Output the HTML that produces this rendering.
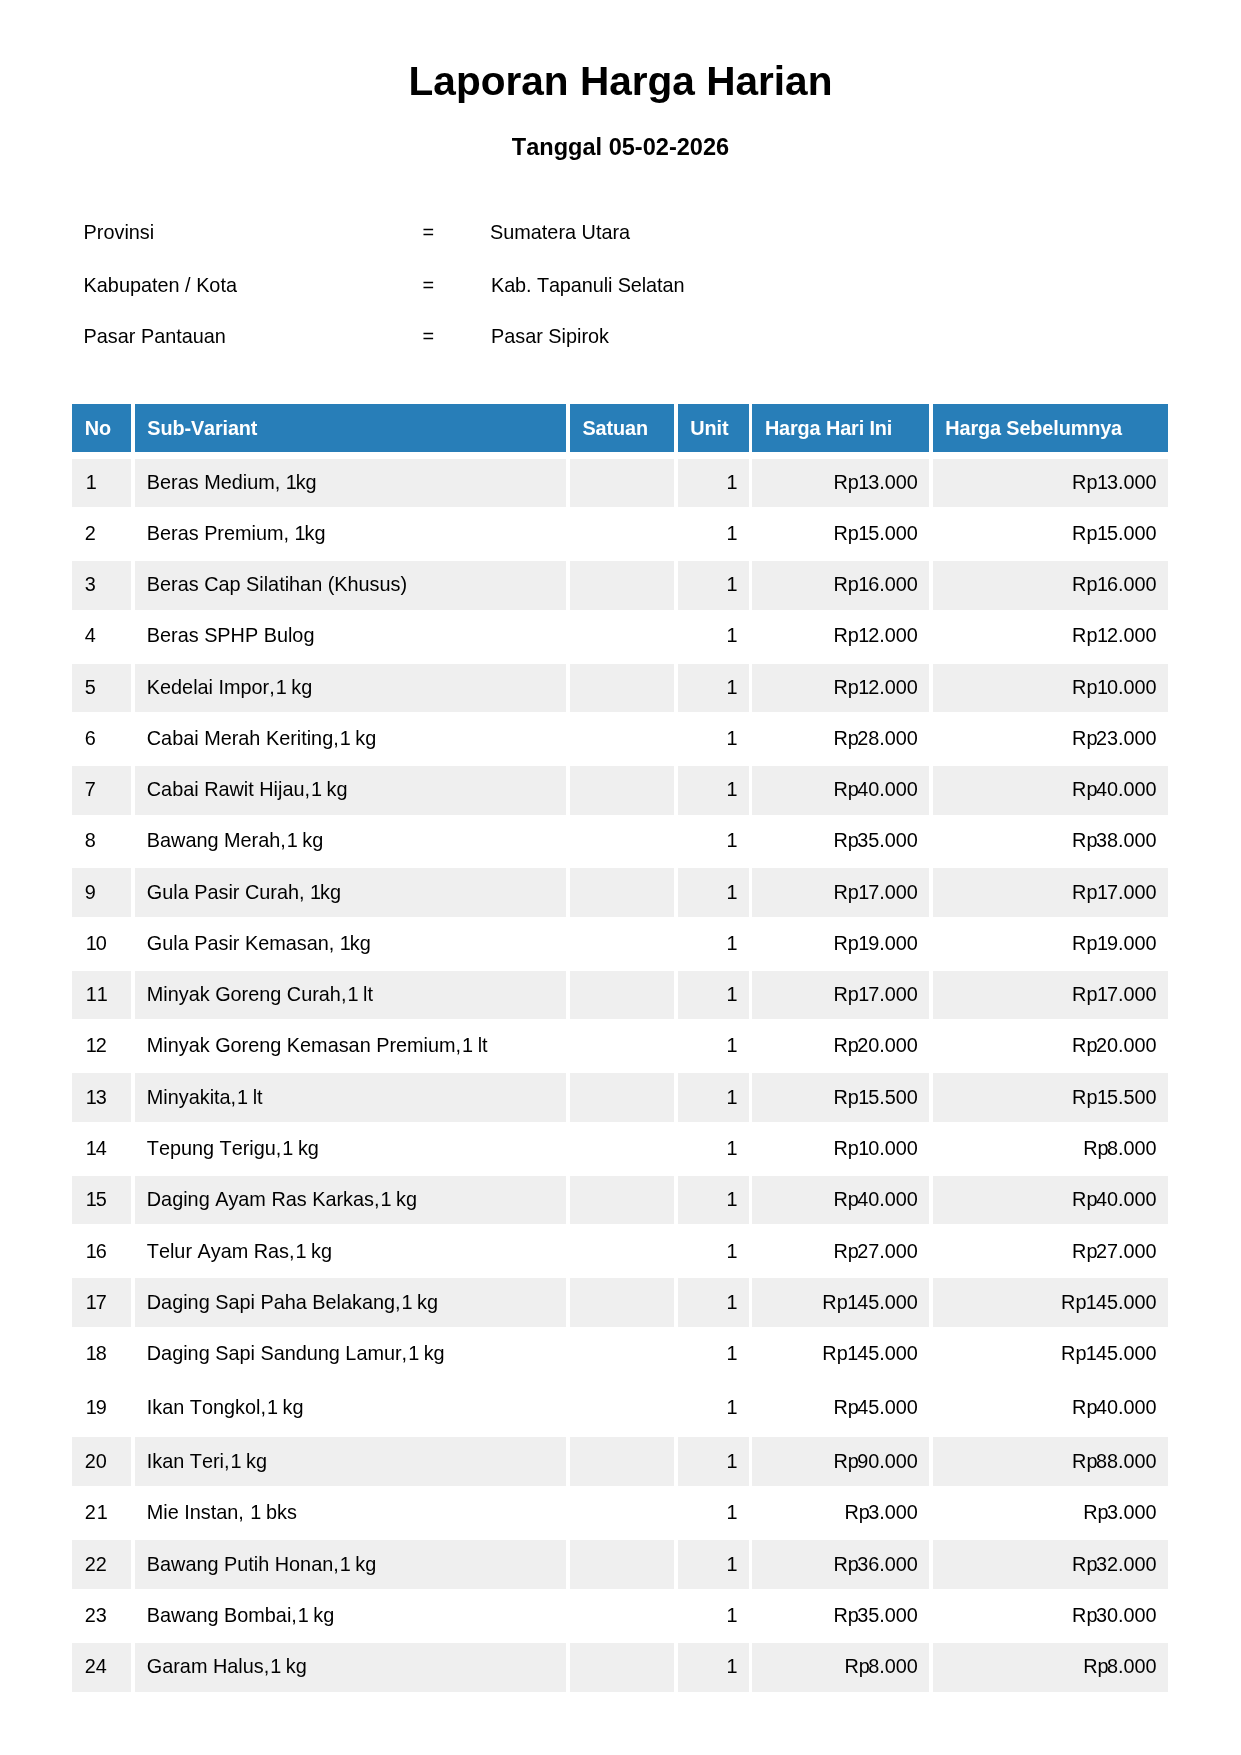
<!DOCTYPE html>
<html><head><meta charset="utf-8"><title>Laporan Harga Harian</title>
<style>
html,body{margin:0;padding:0;background:#fff;}
body{width:1241px;height:1755px;position:relative;overflow:hidden;font-family:"Liberation Sans",sans-serif;color:#000;font-kerning:none;}
.t{position:absolute;white-space:nowrap;line-height:1;}
h1{position:absolute;left:0;width:1241px;text-align:center;margin:0;font-weight:bold;line-height:1;white-space:nowrap;}
.c{position:absolute;box-sizing:border-box;white-space:nowrap;font-size:19.85px;line-height:48.6px;height:48.6px;padding:0 11.7px;overflow:hidden;}
.c span{position:relative;top:var(--d);}
.h span{top:-0.3px;}
.p{padding-right:10.9px;}
i{font-style:normal;position:relative;left:1px;}
i.k{left:0;letter-spacing:-1.1px;}
.n{padding-left:12.7px;font-kerning:none;}
.m{padding-left:12.2px;}
.q{padding-right:11.7px;}
.h span{letter-spacing:-0.12px;}
.u{padding-right:12.4px;}
b{font-weight:normal;position:relative;left:1.6px;}
.h{background:#287eb8;color:#fff;font-weight:bold;padding-left:12.7px;}
.s{background:#efefef;}
.r{text-align:right;}
#w{position:absolute;left:0;top:0;width:1241px;height:1755px;will-change:transform;}
</style></head><body><div id="w">

<h1 style="top:60.5px;font-size:40.6px;">Laporan Harga Harian</h1>
<h1 style="top:135.8px;font-size:23.55px;">Tanggal 05-02-2026</h1>
<div class="t" style="left:83.6px;top:223.1px;font-size:19.85px;">Provinsi</div>
<div class="t" style="left:422.5px;top:223.1px;font-size:19.85px;">=</div>
<div class="t" style="left:490px;top:223.1px;font-size:19.85px;">Sumatera Utara</div>
<div class="t" style="left:83.6px;top:275.6px;font-size:19.85px;">Kabupaten / Kota</div>
<div class="t" style="left:422.5px;top:275.6px;font-size:19.85px;">=</div>
<div class="t" style="left:491px;top:275.6px;font-size:19.85px;letter-spacing:-0.09px;">Kab. Tapanuli Selatan</div>
<div class="t" style="left:83.6px;top:326.5px;font-size:19.85px;">Pasar Pantauan</div>
<div class="t" style="left:422.5px;top:326.5px;font-size:19.85px;">=</div>
<div class="t" style="left:491px;top:326.5px;font-size:19.85px;">Pasar Sipirok</div>
<div class="c h" style="left:72.1px;top:403.9px;width:58.8px;height:48.0px;line-height:48.0px;"><span>No</span></div>
<div class="c h" style="left:134.6px;top:403.9px;width:431.2px;height:48.0px;line-height:48.0px;"><span>Sub-Variant</span></div>
<div class="c h" style="left:569.8px;top:403.9px;width:104.0px;height:48.0px;line-height:48.0px;"><span>Satuan</span></div>
<div class="c h" style="left:677.6px;top:403.9px;width:71.4px;height:48.0px;line-height:48.0px;"><span>Unit</span></div>
<div class="c h" style="left:752.2px;top:403.9px;width:176.6px;height:48.0px;line-height:48.0px;"><span>Harga Hari Ini</span></div>
<div class="c h" style="left:932.6px;top:403.9px;width:235.7px;height:48.0px;line-height:48.0px;"><span>Harga Sebelumnya</span></div>
<div class="c s n" style="left:72.1px;top:458.75px;width:58.8px;--d:-1.25px"><span><i>1</i></span></div>
<div class="c s m" style="left:134.6px;top:458.75px;width:431.2px;--d:-1.25px"><span>Beras Medium, <i class="k">1</i>kg</span></div>
<div class="c s" style="left:569.8px;top:458.75px;width:104.0px;--d:-1.25px"></div>
<div class="c s r u" style="left:677.6px;top:458.75px;width:71.4px;--d:-1.25px"><span><i>1</i></span></div>
<div class="c s r p" style="left:752.2px;top:458.75px;width:176.6px;--d:-1.25px"><span><b>Rp</b><i>1</i>3.000</span></div>
<div class="c s r q" style="left:932.6px;top:458.75px;width:235.7px;--d:-1.25px"><span><b>Rp</b><i>1</i>3.000</span></div>
<div class="c n" style="left:72.1px;top:509.95px;width:58.8px;--d:-1.18px"><span>2</span></div>
<div class="c m" style="left:134.6px;top:509.95px;width:431.2px;--d:-1.18px"><span>Beras Premium, <i class="k">1</i>kg</span></div>
<div class="c" style="left:569.8px;top:509.95px;width:104.0px;--d:-1.18px"></div>
<div class="c r u" style="left:677.6px;top:509.95px;width:71.4px;--d:-1.18px"><span><i>1</i></span></div>
<div class="c r p" style="left:752.2px;top:509.95px;width:176.6px;--d:-1.18px"><span><b>Rp</b><i>1</i>5.000</span></div>
<div class="c r q" style="left:932.6px;top:509.95px;width:235.7px;--d:-1.18px"><span><b>Rp</b><i>1</i>5.000</span></div>
<div class="c s n" style="left:72.1px;top:561.15px;width:58.8px;--d:-1.11px"><span>3</span></div>
<div class="c s m" style="left:134.6px;top:561.15px;width:431.2px;--d:-1.11px"><span>Beras Cap Silatihan (Khusus)</span></div>
<div class="c s" style="left:569.8px;top:561.15px;width:104.0px;--d:-1.11px"></div>
<div class="c s r u" style="left:677.6px;top:561.15px;width:71.4px;--d:-1.11px"><span><i>1</i></span></div>
<div class="c s r p" style="left:752.2px;top:561.15px;width:176.6px;--d:-1.11px"><span><b>Rp</b><i>1</i>6.000</span></div>
<div class="c s r q" style="left:932.6px;top:561.15px;width:235.7px;--d:-1.11px"><span><b>Rp</b><i>1</i>6.000</span></div>
<div class="c n" style="left:72.1px;top:612.35px;width:58.8px;--d:-1.04px"><span>4</span></div>
<div class="c m" style="left:134.6px;top:612.35px;width:431.2px;--d:-1.04px"><span>Beras SPHP Bulog</span></div>
<div class="c" style="left:569.8px;top:612.35px;width:104.0px;--d:-1.04px"></div>
<div class="c r u" style="left:677.6px;top:612.35px;width:71.4px;--d:-1.04px"><span><i>1</i></span></div>
<div class="c r p" style="left:752.2px;top:612.35px;width:176.6px;--d:-1.04px"><span><b>Rp</b><i>1</i>2.000</span></div>
<div class="c r q" style="left:932.6px;top:612.35px;width:235.7px;--d:-1.04px"><span><b>Rp</b><i>1</i>2.000</span></div>
<div class="c s n" style="left:72.1px;top:663.55px;width:58.8px;--d:-0.97px"><span>5</span></div>
<div class="c s m" style="left:134.6px;top:663.55px;width:431.2px;--d:-0.97px"><span>Kedelai Impor,<i>1</i> kg</span></div>
<div class="c s" style="left:569.8px;top:663.55px;width:104.0px;--d:-0.97px"></div>
<div class="c s r u" style="left:677.6px;top:663.55px;width:71.4px;--d:-0.97px"><span><i>1</i></span></div>
<div class="c s r p" style="left:752.2px;top:663.55px;width:176.6px;--d:-0.97px"><span><b>Rp</b><i>1</i>2.000</span></div>
<div class="c s r q" style="left:932.6px;top:663.55px;width:235.7px;--d:-0.97px"><span><b>Rp</b><i>1</i>0.000</span></div>
<div class="c n" style="left:72.1px;top:714.75px;width:58.8px;--d:-0.90px"><span>6</span></div>
<div class="c m" style="left:134.6px;top:714.75px;width:431.2px;--d:-0.90px"><span>Cabai Merah Keriting,<i>1</i> kg</span></div>
<div class="c" style="left:569.8px;top:714.75px;width:104.0px;--d:-0.90px"></div>
<div class="c r u" style="left:677.6px;top:714.75px;width:71.4px;--d:-0.90px"><span><i>1</i></span></div>
<div class="c r p" style="left:752.2px;top:714.75px;width:176.6px;--d:-0.90px"><span><b>Rp</b>28.000</span></div>
<div class="c r q" style="left:932.6px;top:714.75px;width:235.7px;--d:-0.90px"><span><b>Rp</b>23.000</span></div>
<div class="c s n" style="left:72.1px;top:765.95px;width:58.8px;--d:-0.83px"><span>7</span></div>
<div class="c s m" style="left:134.6px;top:765.95px;width:431.2px;--d:-0.83px"><span>Cabai Rawit Hijau,<i>1</i> kg</span></div>
<div class="c s" style="left:569.8px;top:765.95px;width:104.0px;--d:-0.83px"></div>
<div class="c s r u" style="left:677.6px;top:765.95px;width:71.4px;--d:-0.83px"><span><i>1</i></span></div>
<div class="c s r p" style="left:752.2px;top:765.95px;width:176.6px;--d:-0.83px"><span><b>Rp</b>40.000</span></div>
<div class="c s r q" style="left:932.6px;top:765.95px;width:235.7px;--d:-0.83px"><span><b>Rp</b>40.000</span></div>
<div class="c n" style="left:72.1px;top:817.15px;width:58.8px;--d:-0.76px"><span>8</span></div>
<div class="c m" style="left:134.6px;top:817.15px;width:431.2px;--d:-0.76px"><span>Bawang Merah,<i>1</i> kg</span></div>
<div class="c" style="left:569.8px;top:817.15px;width:104.0px;--d:-0.76px"></div>
<div class="c r u" style="left:677.6px;top:817.15px;width:71.4px;--d:-0.76px"><span><i>1</i></span></div>
<div class="c r p" style="left:752.2px;top:817.15px;width:176.6px;--d:-0.76px"><span><b>Rp</b>35.000</span></div>
<div class="c r q" style="left:932.6px;top:817.15px;width:235.7px;--d:-0.76px"><span><b>Rp</b>38.000</span></div>
<div class="c s n" style="left:72.1px;top:868.35px;width:58.8px;--d:-0.69px"><span>9</span></div>
<div class="c s m" style="left:134.6px;top:868.35px;width:431.2px;--d:-0.69px"><span>Gula Pasir Curah, <i class="k">1</i>kg</span></div>
<div class="c s" style="left:569.8px;top:868.35px;width:104.0px;--d:-0.69px"></div>
<div class="c s r u" style="left:677.6px;top:868.35px;width:71.4px;--d:-0.69px"><span><i>1</i></span></div>
<div class="c s r p" style="left:752.2px;top:868.35px;width:176.6px;--d:-0.69px"><span><b>Rp</b><i>1</i>7.000</span></div>
<div class="c s r q" style="left:932.6px;top:868.35px;width:235.7px;--d:-0.69px"><span><b>Rp</b><i>1</i>7.000</span></div>
<div class="c n" style="left:72.1px;top:919.55px;width:58.8px;--d:-0.62px"><span><i>1</i>0</span></div>
<div class="c m" style="left:134.6px;top:919.55px;width:431.2px;--d:-0.62px"><span>Gula Pasir Kemasan, <i class="k">1</i>kg</span></div>
<div class="c" style="left:569.8px;top:919.55px;width:104.0px;--d:-0.62px"></div>
<div class="c r u" style="left:677.6px;top:919.55px;width:71.4px;--d:-0.62px"><span><i>1</i></span></div>
<div class="c r p" style="left:752.2px;top:919.55px;width:176.6px;--d:-0.62px"><span><b>Rp</b><i>1</i>9.000</span></div>
<div class="c r q" style="left:932.6px;top:919.55px;width:235.7px;--d:-0.62px"><span><b>Rp</b><i>1</i>9.000</span></div>
<div class="c s n" style="left:72.1px;top:970.75px;width:58.8px;--d:-0.55px"><span><i>1</i><i>1</i></span></div>
<div class="c s m" style="left:134.6px;top:970.75px;width:431.2px;--d:-0.55px"><span>Minyak Goreng Curah,<i>1</i> lt</span></div>
<div class="c s" style="left:569.8px;top:970.75px;width:104.0px;--d:-0.55px"></div>
<div class="c s r u" style="left:677.6px;top:970.75px;width:71.4px;--d:-0.55px"><span><i>1</i></span></div>
<div class="c s r p" style="left:752.2px;top:970.75px;width:176.6px;--d:-0.55px"><span><b>Rp</b><i>1</i>7.000</span></div>
<div class="c s r q" style="left:932.6px;top:970.75px;width:235.7px;--d:-0.55px"><span><b>Rp</b><i>1</i>7.000</span></div>
<div class="c n" style="left:72.1px;top:1021.95px;width:58.8px;--d:-0.48px"><span><i>1</i>2</span></div>
<div class="c m" style="left:134.6px;top:1021.95px;width:431.2px;--d:-0.48px"><span>Minyak Goreng Kemasan Premium,<i>1</i> lt</span></div>
<div class="c" style="left:569.8px;top:1021.95px;width:104.0px;--d:-0.48px"></div>
<div class="c r u" style="left:677.6px;top:1021.95px;width:71.4px;--d:-0.48px"><span><i>1</i></span></div>
<div class="c r p" style="left:752.2px;top:1021.95px;width:176.6px;--d:-0.48px"><span><b>Rp</b>20.000</span></div>
<div class="c r q" style="left:932.6px;top:1021.95px;width:235.7px;--d:-0.48px"><span><b>Rp</b>20.000</span></div>
<div class="c s n" style="left:72.1px;top:1073.15px;width:58.8px;--d:-0.41px"><span><i>1</i>3</span></div>
<div class="c s m" style="left:134.6px;top:1073.15px;width:431.2px;--d:-0.41px"><span>Minyakita,<i>1</i> lt</span></div>
<div class="c s" style="left:569.8px;top:1073.15px;width:104.0px;--d:-0.41px"></div>
<div class="c s r u" style="left:677.6px;top:1073.15px;width:71.4px;--d:-0.41px"><span><i>1</i></span></div>
<div class="c s r p" style="left:752.2px;top:1073.15px;width:176.6px;--d:-0.41px"><span><b>Rp</b><i>1</i>5.500</span></div>
<div class="c s r q" style="left:932.6px;top:1073.15px;width:235.7px;--d:-0.41px"><span><b>Rp</b><i>1</i>5.500</span></div>
<div class="c n" style="left:72.1px;top:1124.35px;width:58.8px;--d:-0.34px"><span><i>1</i>4</span></div>
<div class="c m" style="left:134.6px;top:1124.35px;width:431.2px;--d:-0.34px"><span>Tepung Terigu,<i>1</i> kg</span></div>
<div class="c" style="left:569.8px;top:1124.35px;width:104.0px;--d:-0.34px"></div>
<div class="c r u" style="left:677.6px;top:1124.35px;width:71.4px;--d:-0.34px"><span><i>1</i></span></div>
<div class="c r p" style="left:752.2px;top:1124.35px;width:176.6px;--d:-0.34px"><span><b>Rp</b><i>1</i>0.000</span></div>
<div class="c r q" style="left:932.6px;top:1124.35px;width:235.7px;--d:-0.34px"><span><b>Rp</b>8.000</span></div>
<div class="c s n" style="left:72.1px;top:1175.55px;width:58.8px;--d:-0.27px"><span><i>1</i>5</span></div>
<div class="c s m" style="left:134.6px;top:1175.55px;width:431.2px;--d:-0.27px"><span>Daging Ayam Ras Karkas,<i>1</i> kg</span></div>
<div class="c s" style="left:569.8px;top:1175.55px;width:104.0px;--d:-0.27px"></div>
<div class="c s r u" style="left:677.6px;top:1175.55px;width:71.4px;--d:-0.27px"><span><i>1</i></span></div>
<div class="c s r p" style="left:752.2px;top:1175.55px;width:176.6px;--d:-0.27px"><span><b>Rp</b>40.000</span></div>
<div class="c s r q" style="left:932.6px;top:1175.55px;width:235.7px;--d:-0.27px"><span><b>Rp</b>40.000</span></div>
<div class="c n" style="left:72.1px;top:1226.75px;width:58.8px;--d:-0.20px"><span><i>1</i>6</span></div>
<div class="c m" style="left:134.6px;top:1226.75px;width:431.2px;--d:-0.20px"><span>Telur Ayam Ras,<i>1</i> kg</span></div>
<div class="c" style="left:569.8px;top:1226.75px;width:104.0px;--d:-0.20px"></div>
<div class="c r u" style="left:677.6px;top:1226.75px;width:71.4px;--d:-0.20px"><span><i>1</i></span></div>
<div class="c r p" style="left:752.2px;top:1226.75px;width:176.6px;--d:-0.20px"><span><b>Rp</b>27.000</span></div>
<div class="c r q" style="left:932.6px;top:1226.75px;width:235.7px;--d:-0.20px"><span><b>Rp</b>27.000</span></div>
<div class="c s n" style="left:72.1px;top:1277.95px;width:58.8px;--d:-0.13px"><span><i>1</i>7</span></div>
<div class="c s m" style="left:134.6px;top:1277.95px;width:431.2px;--d:-0.13px"><span>Daging Sapi Paha Belakang,<i>1</i> kg</span></div>
<div class="c s" style="left:569.8px;top:1277.95px;width:104.0px;--d:-0.13px"></div>
<div class="c s r u" style="left:677.6px;top:1277.95px;width:71.4px;--d:-0.13px"><span><i>1</i></span></div>
<div class="c s r p" style="left:752.2px;top:1277.95px;width:176.6px;--d:-0.13px"><span><b>Rp</b><i>1</i>45.000</span></div>
<div class="c s r q" style="left:932.6px;top:1277.95px;width:235.7px;--d:-0.13px"><span><b>Rp</b><i>1</i>45.000</span></div>
<div class="c n" style="left:72.1px;top:1329.15px;width:58.8px;--d:-0.06px"><span><i>1</i>8</span></div>
<div class="c m" style="left:134.6px;top:1329.15px;width:431.2px;--d:-0.06px"><span>Daging Sapi Sandung Lamur,<i>1</i> kg</span></div>
<div class="c" style="left:569.8px;top:1329.15px;width:104.0px;--d:-0.06px"></div>
<div class="c r u" style="left:677.6px;top:1329.15px;width:71.4px;--d:-0.06px"><span><i>1</i></span></div>
<div class="c r p" style="left:752.2px;top:1329.15px;width:176.6px;--d:-0.06px"><span><b>Rp</b><i>1</i>45.000</span></div>
<div class="c r q" style="left:932.6px;top:1329.15px;width:235.7px;--d:-0.06px"><span><b>Rp</b><i>1</i>45.000</span></div>
<div class="c n" style="left:72.1px;top:1384.10px;width:58.8px;--d:-0.75px"><span><i>1</i>9</span></div>
<div class="c m" style="left:134.6px;top:1384.10px;width:431.2px;--d:-0.75px"><span>Ikan Tongkol,<i>1</i> kg</span></div>
<div class="c" style="left:569.8px;top:1384.10px;width:104.0px;--d:-0.75px"></div>
<div class="c r u" style="left:677.6px;top:1384.10px;width:71.4px;--d:-0.75px"><span><i>1</i></span></div>
<div class="c r p" style="left:752.2px;top:1384.10px;width:176.6px;--d:-0.75px"><span><b>Rp</b>45.000</span></div>
<div class="c r q" style="left:932.6px;top:1384.10px;width:235.7px;--d:-0.75px"><span><b>Rp</b>40.000</span></div>
<div class="c s n" style="left:72.1px;top:1437.10px;width:58.8px;--d:0.00px"><span>20</span></div>
<div class="c s m" style="left:134.6px;top:1437.10px;width:431.2px;--d:0.00px"><span>Ikan Teri,<i>1</i> kg</span></div>
<div class="c s" style="left:569.8px;top:1437.10px;width:104.0px;--d:0.00px"></div>
<div class="c s r u" style="left:677.6px;top:1437.10px;width:71.4px;--d:0.00px"><span><i>1</i></span></div>
<div class="c s r p" style="left:752.2px;top:1437.10px;width:176.6px;--d:0.00px"><span><b>Rp</b>90.000</span></div>
<div class="c s r q" style="left:932.6px;top:1437.10px;width:235.7px;--d:0.00px"><span><b>Rp</b>88.000</span></div>
<div class="c n" style="left:72.1px;top:1488.60px;width:58.8px;--d:-0.20px"><span>2<i>1</i></span></div>
<div class="c m" style="left:134.6px;top:1488.60px;width:431.2px;--d:-0.20px"><span>Mie Instan, <i>1</i> bks</span></div>
<div class="c" style="left:569.8px;top:1488.60px;width:104.0px;--d:-0.20px"></div>
<div class="c r u" style="left:677.6px;top:1488.60px;width:71.4px;--d:-0.20px"><span><i>1</i></span></div>
<div class="c r p" style="left:752.2px;top:1488.60px;width:176.6px;--d:-0.20px"><span><b>Rp</b>3.000</span></div>
<div class="c r q" style="left:932.6px;top:1488.60px;width:235.7px;--d:-0.20px"><span><b>Rp</b>3.000</span></div>
<div class="c s n" style="left:72.1px;top:1540.10px;width:58.8px;--d:-0.40px"><span>22</span></div>
<div class="c s m" style="left:134.6px;top:1540.10px;width:431.2px;--d:-0.40px"><span>Bawang Putih Honan,<i>1</i> kg</span></div>
<div class="c s" style="left:569.8px;top:1540.10px;width:104.0px;--d:-0.40px"></div>
<div class="c s r u" style="left:677.6px;top:1540.10px;width:71.4px;--d:-0.40px"><span><i>1</i></span></div>
<div class="c s r p" style="left:752.2px;top:1540.10px;width:176.6px;--d:-0.40px"><span><b>Rp</b>36.000</span></div>
<div class="c s r q" style="left:932.6px;top:1540.10px;width:235.7px;--d:-0.40px"><span><b>Rp</b>32.000</span></div>
<div class="c n" style="left:72.1px;top:1591.60px;width:58.8px;--d:-0.60px"><span>23</span></div>
<div class="c m" style="left:134.6px;top:1591.60px;width:431.2px;--d:-0.60px"><span>Bawang Bombai,<i>1</i> kg</span></div>
<div class="c" style="left:569.8px;top:1591.60px;width:104.0px;--d:-0.60px"></div>
<div class="c r u" style="left:677.6px;top:1591.60px;width:71.4px;--d:-0.60px"><span><i>1</i></span></div>
<div class="c r p" style="left:752.2px;top:1591.60px;width:176.6px;--d:-0.60px"><span><b>Rp</b>35.000</span></div>
<div class="c r q" style="left:932.6px;top:1591.60px;width:235.7px;--d:-0.60px"><span><b>Rp</b>30.000</span></div>
<div class="c s n" style="left:72.1px;top:1643.10px;width:58.8px;--d:-0.80px"><span>24</span></div>
<div class="c s m" style="left:134.6px;top:1643.10px;width:431.2px;--d:-0.80px"><span>Garam Halus,<i>1</i> kg</span></div>
<div class="c s" style="left:569.8px;top:1643.10px;width:104.0px;--d:-0.80px"></div>
<div class="c s r u" style="left:677.6px;top:1643.10px;width:71.4px;--d:-0.80px"><span><i>1</i></span></div>
<div class="c s r p" style="left:752.2px;top:1643.10px;width:176.6px;--d:-0.80px"><span><b>Rp</b>8.000</span></div>
<div class="c s r q" style="left:932.6px;top:1643.10px;width:235.7px;--d:-0.80px"><span><b>Rp</b>8.000</span></div>
</div></body></html>
